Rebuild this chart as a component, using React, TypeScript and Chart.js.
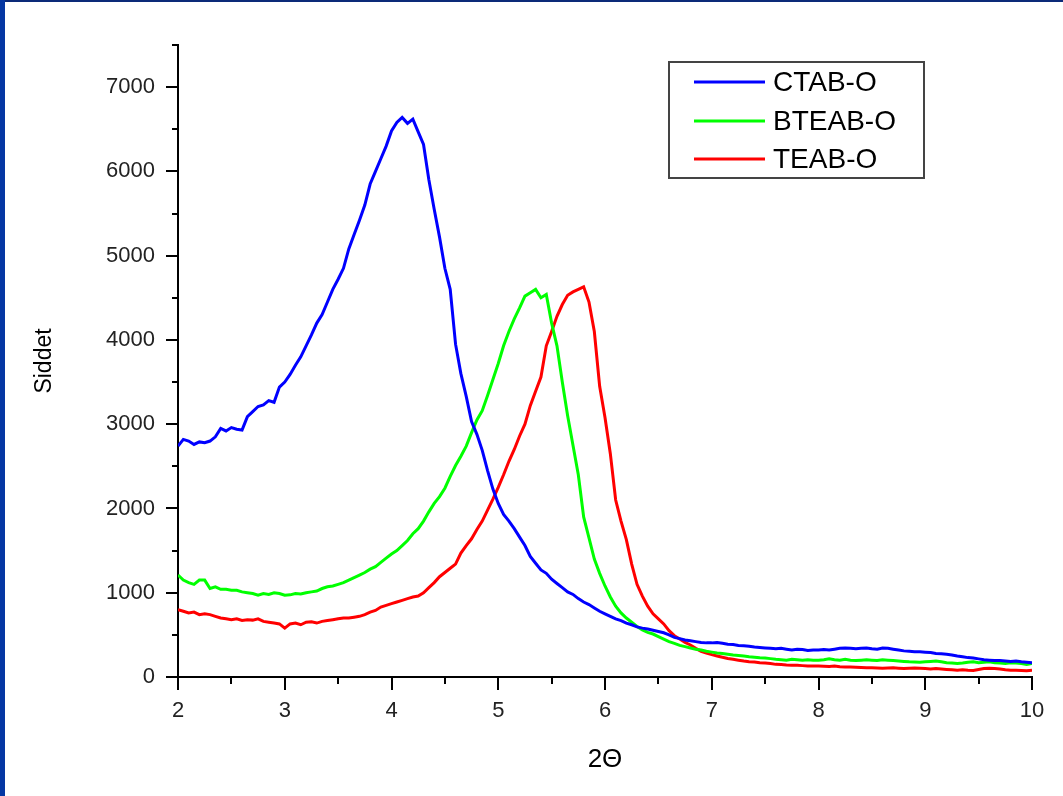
import React, { useEffect, useRef } from 'react';
import { Chart, registerables } from 'chart.js';

Chart.register(...registerables);

// ---- data ----
const thetaStart = 2;
const thetaStep = 0.05;

const seriesLabels = ['CTAB-O', 'BTEAB-O', 'TEAB-O'];
const seriesColors = ['#0000ff', '#00ff00', '#ff0000'];

const ctabO = [
  2740, 2820, 2800, 2760, 2790, 2780, 2800, 2850, 2950, 2920, 2960, 2940, 2930, 3090, 3150, 3210, 3230, 3280, 3260, 3440,
  3500, 3590, 3700, 3800, 3930, 4060, 4200, 4300, 4450, 4600, 4720, 4850, 5080, 5250, 5420, 5600, 5850, 6000, 6150, 6300,
  6480, 6580, 6640, 6570, 6620, 6470, 6320, 5900, 5550, 5220, 4850, 4600, 3950, 3600, 3330, 3030, 2880, 2690, 2450, 2230,
  2060, 1930, 1850, 1760, 1660, 1560, 1430, 1350, 1270, 1230, 1160, 1110, 1060, 1010, 980, 930, 890, 860, 820, 780,
  750, 720, 690, 670, 640, 620, 595, 580, 570, 555, 540, 525, 500, 470, 455, 440, 430, 420, 410, 405,
  405, 410, 400, 390, 385, 375, 370, 365, 355, 350, 345, 340, 335, 340, 330, 320, 330, 325, 315, 320,
  320, 325, 320, 330, 340, 345, 340, 335, 340, 345, 335, 330, 345, 340, 330, 320, 310, 305, 300, 300,
  295, 290, 280, 275, 270, 262, 250, 240, 230, 225, 215, 205, 200, 195, 195, 190, 185, 190, 180, 175,
  170,
];

const bteabO = [
  1210, 1150, 1120, 1100, 1150, 1150, 1050, 1070, 1040, 1040, 1030, 1030, 1010, 1000, 990, 970, 990, 980, 1000, 990,
  970, 975, 990, 985, 1000, 1010, 1020, 1050, 1070, 1080, 1100, 1120, 1150, 1180, 1210, 1240, 1280, 1310, 1360, 1410,
  1460, 1500, 1560, 1620, 1700, 1760, 1850, 1960, 2060, 2140, 2240, 2380, 2510, 2620, 2740, 2900, 3050, 3160, 3340, 3530,
  3720, 3930, 4100, 4250, 4380, 4520, 4560, 4600, 4500, 4540, 4200, 3930, 3500, 3100, 2750, 2400, 1900, 1650, 1400, 1230,
  1080, 950, 840, 760, 700, 650, 600, 560, 530, 510, 480, 450, 420, 400, 375, 360, 345, 330, 320, 305,
  295, 285, 280, 270, 260, 255, 248, 240, 235, 228, 225, 218, 210, 205, 200, 210, 205, 200, 205, 200,
  200, 205, 215, 205, 200, 210, 200, 195, 200, 205, 200, 195, 205, 200, 195, 190, 185, 180, 178, 175,
  180, 185, 190, 180, 170, 165, 160, 165, 175, 180, 170, 175, 180, 170, 165, 160, 170, 165, 160, 150,
  160,
];

const teabO = [
  800, 780, 760, 770, 740, 750, 740, 720, 700, 690, 680, 690, 670, 680, 675, 690, 660, 650, 640, 630,
  580, 630, 640, 620, 650, 655, 640, 660, 670, 680, 690, 700, 700, 710, 720, 740, 770, 790, 830, 850,
  870, 890, 910, 930, 950, 960, 1000, 1060, 1120, 1190, 1240, 1290, 1340, 1470, 1560, 1640, 1750, 1850, 1980, 2110,
  2250, 2400, 2560, 2700, 2860, 3000, 3220, 3390, 3560, 3930, 4100, 4280, 4420, 4530, 4570, 4600, 4630, 4450, 4100, 3450,
  3080, 2650, 2100, 1850, 1630, 1340, 1100, 960, 840, 750, 690, 630, 550, 490, 450, 410, 380, 340, 305, 285,
  265, 250, 235, 220, 210, 200, 190, 182, 178, 170, 165, 160, 150, 148, 143, 140, 138, 135, 132, 130,
  130, 128, 125, 130, 122, 120, 118, 115, 112, 110, 110, 108, 105, 108, 110, 105, 100, 105, 108, 105,
  100, 95, 100, 95, 90, 85, 80, 85, 80, 78, 90, 100, 105, 100, 95, 85, 80, 80, 78, 75,
  80,
];

const seriesValues = [ctabO, bteabO, teabO];

const xMajorTicks = [2, 3, 4, 5, 6, 7, 8, 9, 10];
const xMinorTicks = [2.5, 3.5, 4.5, 5.5, 6.5, 7.5, 8.5, 9.5];
const yMajorTicks = [0, 1000, 2000, 3000, 4000, 5000, 6000, 7000];
const yMinorTicks = [500, 1500, 2500, 3500, 4500, 5500, 6500, 7500];

const xTitle = '2Θ';
const yTitle = 'Siddet';

const FONT = '"Liberation Sans", Arial, Helvetica, sans-serif';

const toPoints = (vals: number[]) =>
  vals.map((v, i) => ({ x: Math.round((thetaStart + i * thetaStep) * 100) / 100, y: v }));

const decorPlugin = {
  id: 'decor',
  afterDraw(chart: any) {
    const { ctx } = chart;
    const xs = chart.scales.x;
    const ys = chart.scales.y;
    const left = chart.chartArea.left;
    const bottom = chart.chartArea.bottom;
    ctx.save();
    ctx.strokeStyle = '#000';
    ctx.lineWidth = 2;
    ctx.beginPath();
    for (const v of yMajorTicks) {
      const y = Math.round(ys.getPixelForValue(v));
      ctx.moveTo(left - 12, y);
      ctx.lineTo(left, y);
    }
    for (const v of yMinorTicks) {
      const y = Math.round(ys.getPixelForValue(v));
      ctx.moveTo(left - 6, y);
      ctx.lineTo(left, y);
    }
    for (const v of xMajorTicks) {
      const x = Math.round(xs.getPixelForValue(v));
      ctx.moveTo(x, bottom);
      ctx.lineTo(x, bottom + 13);
    }
    for (const v of xMinorTicks) {
      const x = Math.round(xs.getPixelForValue(v));
      ctx.moveTo(x, bottom);
      ctx.lineTo(x, bottom + 7);
    }
    ctx.stroke();

    // legend box
    ctx.strokeStyle = '#444';
    ctx.lineWidth = 2;
    ctx.strokeRect(669, 62, 255, 116);
    const rows = [82, 121, 159];
    ctx.font = `28px ${FONT}`;
    ctx.textBaseline = 'middle';
    ctx.textAlign = 'left';
    chart.data.datasets.forEach((ds: any, i: number) => {
      ctx.strokeStyle = ds.borderColor;
      ctx.lineWidth = 3;
      ctx.beginPath();
      ctx.moveTo(694, rows[i]);
      ctx.lineTo(765, rows[i]);
      ctx.stroke();
      ctx.fillStyle = '#000';
      ctx.fillText(ds.label, 773, rows[i] + 1);
    });
    ctx.restore();
  },
};

export default function App() {
  const ref = useRef<HTMLCanvasElement | null>(null);

  useEffect(() => {
    if (!ref.current) return;
    const chart = new Chart(ref.current, {
      type: 'line',
      data: {
        datasets: seriesLabels.map((label, i) => ({
          label,
          data: toPoints(seriesValues[i]),
          borderColor: seriesColors[i],
          backgroundColor: seriesColors[i],
          borderWidth: 3,
          pointRadius: 0,
          tension: 0,
          fill: false,
        })),
      },
      options: {
        animation: false,
        responsive: false,
        maintainAspectRatio: false,
        layout: { padding: { left: 0, right: 31, top: 45, bottom: 0 } },
        plugins: { legend: { display: false }, tooltip: { enabled: false } },
        scales: {
          x: {
            type: 'linear',
            min: 2,
            max: 10,
            afterBuildTicks: (s: any) => {
              s.ticks = xMajorTicks.map((value) => ({ value }));
            },
            afterFit: (s: any) => {
              s.height = 119;
            },
            ticks: {
              padding: 8,
              color: '#222',
              autoSkip: false,
              maxRotation: 0,
              font: { family: FONT, size: 22 },
              callback: (v: any) => String(v),
            },
            grid: {
              display: true,
              drawOnChartArea: false,
              drawTicks: true,
              tickLength: 13,
              color: 'rgba(0,0,0,0)',
            },
            border: { display: true, color: '#000', width: 2 },
            title: {
              display: true,
              text: xTitle,
              color: '#000',
              font: { family: FONT, size: 26 },
              padding: { top: 0, bottom: 21 },
            },
          },
          y: {
            type: 'linear',
            min: 0,
            max: 7500,
            afterBuildTicks: (s: any) => {
              s.ticks = yMajorTicks.map((value) => ({ value }));
            },
            afterFit: (s: any) => {
              s.width = 178;
            },
            ticks: {
              padding: 11,
              color: '#222',
              autoSkip: false,
              font: { family: FONT, size: 22 },
              callback: (v: any) => String(v),
            },
            grid: {
              display: true,
              drawOnChartArea: false,
              drawTicks: true,
              tickLength: 12,
              color: 'rgba(0,0,0,0)',
            },
            border: { display: true, color: '#000', width: 2 },
            title: {
              display: true,
              text: yTitle,
              color: '#000',
              font: { family: FONT, size: 23 },
              padding: { top: 31, bottom: 0 },
            },
          },
        },
      },
      plugins: [decorPlugin],
    });
    return () => chart.destroy();
  }, []);

  return (
    <div
      style={{
        position: 'fixed',
        left: 0,
        top: 0,
        width: 1063,
        height: 796,
        background: '#fff',
        overflow: 'hidden',
      }}
    >
      <canvas ref={ref} width={1063} height={796} style={{ position: 'absolute', left: 0, top: 0 }} />
      <div style={{ position: 'absolute', left: 0, top: 0, width: 1063, height: 2, background: '#0c2a78' }} />
      <div style={{ position: 'absolute', left: 0, top: 0, width: 5, height: 796, background: '#0537a3' }} />
    </div>
  );
}
